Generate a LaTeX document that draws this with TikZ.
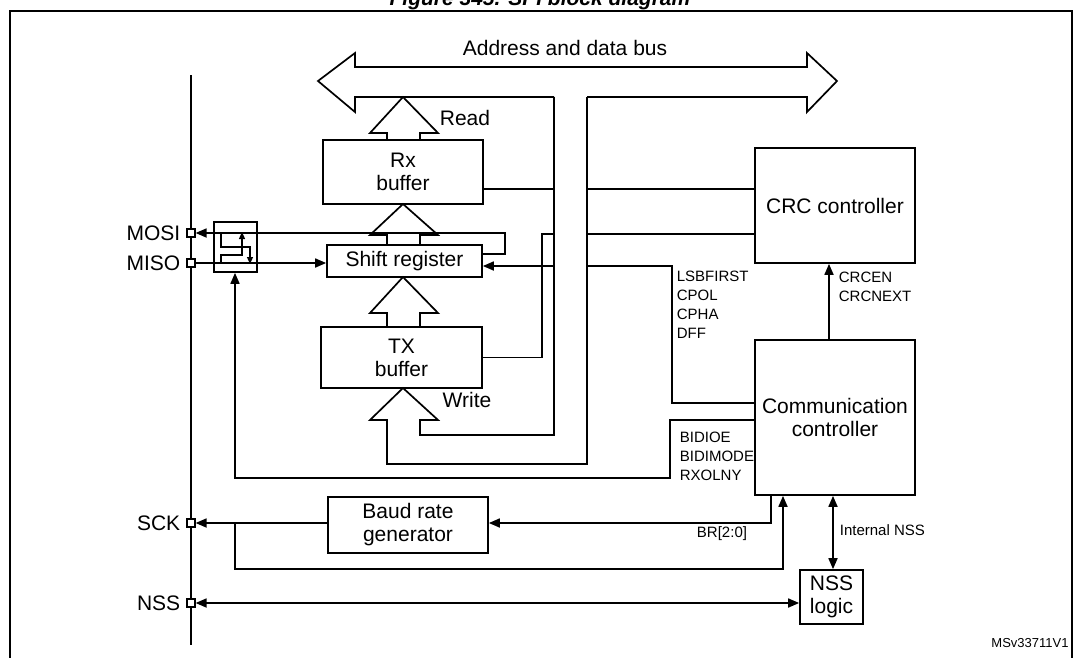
\documentclass[tikz,border=0pt]{standalone}
\usepackage{fontspec}
\setmainfont{Liberation Sans}
\usetikzlibrary{arrows.meta,calc}
\newcommand{\bigfont}{\fontsize{21}{23}\selectfont}
\newcommand{\smallfont}{\fontsize{15}{19}\selectfont}

\begin{document}
\begin{tikzpicture}[x=1pt,y=-1pt,line width=1.7pt,>={Triangle[length=11pt,width=9pt]},
  block/.style={draw,fill=white,align=center,font=\bigfont,inner sep=0pt},
  pin/.style={draw,fill=white,line width=1.2pt,minimum size=8pt,inner sep=0pt},
  pinlabel/.style={left,font=\bigfont,xshift=-2pt},
  sig/.style={font=\smallfont,align=left,inner sep=0pt}]

\useasboundingbox (0,0) rectangle (1080,657);
\node[font=\bigfont\bfseries\itshape] at (540,0) {Figure 345. SPI block diagram};
\draw (10,11) rectangle (1072,672);

% pins
\draw (191,75) -- (191,645);
\node[pin] (mosi) at (191,233) {};
\node[pin] (miso) at (191,263) {};
\node[pin] (sck) at (191,523) {};
\node[pin] (nsspin) at (191,603) {};
\node[pinlabel] at (mosi.west) {MOSI};
\node[pinlabel] at (miso.west) {MISO};
\node[pinlabel] at (sck.west) {SCK};
\node[pinlabel] at (nsspin.west) {NSS};

% blocks
\node[block,minimum width=160,minimum height=64] (rx) at (403,172) {Rx\\buffer};
\node[block,minimum width=155,minimum height=32] (shift) at (404.5,261) {Shift register};
\node[block,minimum width=161,minimum height=61] (tx) at (401.5,357.5) {TX\\buffer};
\node[block,minimum width=160,minimum height=115] (crc) at (835,205.5) {CRC controller};
\node[block,minimum width=160,minimum height=155] (comm) at (835,417.5) {Communication\\controller};
\node[block,minimum width=160,minimum height=56] (baud) at (408,525) {Baud rate\\generator};
\node[block,minimum width=63,minimum height=54] (nss) at (831.5,597) {NSS\\logic};
\node[draw,minimum width=43,minimum height=50,inner sep=0pt] (sw) at (235.5,247) {};

% bus
\draw (587,97) -- (807,97) -- (807,112) -- (837,81) -- (807,53) -- (807,67)
  -- (355,67) -- (355,53) -- (318,81) -- (355,112) -- (355,97) -- (554,97);
\node[font=\bigfont] at (565,48) {Address and data bus};

% hollow arrows
\draw (387,140) -- (387,133) -- (370,133) -- (403,97) -- (438,133) -- (420,133) -- (420,140);
\draw (387,245) -- (387,235) -- (370,235) -- (403,204) -- (438,235) -- (420,235) -- (420,245);
\draw (387,327) -- (387,313) -- (370,313) -- (403,277) -- (438,313) -- (420,313) -- (420,327);
\draw (554,97) -- (554,435) -- (420,435) -- (420,420) -- (438,420) -- (403,388)
  -- (370,420) -- (387,420) -- (387,464) -- (587,464) -- (587,97);
\node[font=\bigfont] at (465,118) {Read};
\node[font=\bigfont] at (467,400) {Write};

% connections
\draw (rx.east |- 0,189) -- (554,189);
\draw (587,189) -- (crc.west |- 0,189);
\draw (587,234) -- (crc.west |- 0,234);
\draw[->] (554,266) -- (shift.east |- 0,266);
\draw (587,266) -- (672,266) -- (672,403) -- (comm.west |- 0,403);
\draw (tx.east) -- (542,357.5) -- (542,234) -- (554,234);
\draw[->] (shift.east |- 0,254) -- (505,254) -- (505,233) -- (mosi);
\draw[->] (miso) -- (shift.west |- miso);
\draw[->] (comm.west |- 0,420) -- (670,420) -- (670,478) -- (235,478) -- (sw.south -| 235,0);
\draw[->] (comm.north -| 829,0) -- (crc.south -| 829,0);
\draw[->] (comm.south -| 771,0) -- (771,523) -- (baud.east |- 0,523);
\draw[->] (baud.west |- 0,523) -- (sck);
\draw[->] (235,523) -- (235,569) -- (783,569) -- (comm.south -| 783,0);
\draw[<->] (comm.south -| 833,0) -- (nss.north -| 833,0);
\draw[<->] (nsspin) -- (nss.west |- nsspin);

% switch inside
\begin{scope}[line width=1.2pt,>={Triangle[length=7pt,width=6pt]}]
\draw[->] (221,233) -- (221,247) -- (250,247) -- (250,264);
\draw[->] (221,263) -- (221,255) -- (242,255) -- (242,232);
\end{scope}

% signal labels
\node[sig,anchor=north west] at (676,270) {LSBFIRST\\CPOL\\CPHA\\DFF};
\node[sig,anchor=north west] at (679,431) {BIDIOE\\BIDIMODE\\RXOLNY};
\node[sig,anchor=north west] at (838,271) {CRCEN\\CRCNEXT};
\node[sig] at (722,534) {BR[2:0]};
\node[sig,anchor=west] at (839,530) {Internal NSS};
\node[font=\fontsize{13}{15}\selectfont] at (1030,643) {MSv33711V1};

\end{tikzpicture}
\end{document}
